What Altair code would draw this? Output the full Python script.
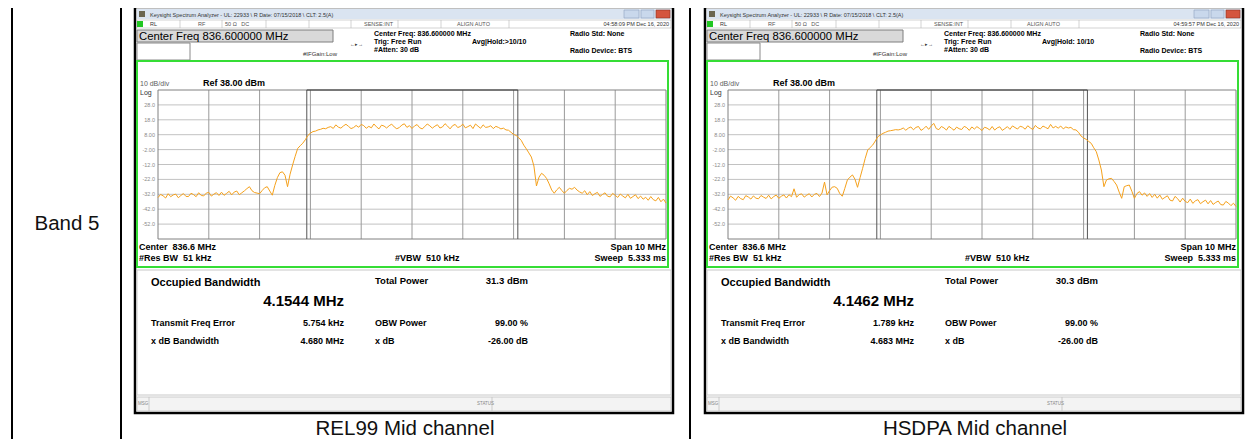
import altair as alt
import pandas as pd

# ---------------- data ----------------
SWEEP_FREQ = [round(831.6 + 0.05 * i, 2) for i in range(201)]  # sweep bins, MHz

REL99_DBM = [
    -34.2, -32.1, -33.0, -34.5, -31.6, -33.6, -32.4, -31.9, -34.3, -32.8,
    -31.5, -33.4, -33.5, -31.3, -32.2, -33.6, -31.0, -32.7, -33.1, -31.2,
    -30.7, -33.2, -31.9, -30.9, -32.8, -30.6, -32.7, -31.4, -30.0, -32.4,
    -30.5, -29.8, -32.3, -31.0, -29.7, -28.2, -26.9, -29.6, -30.8, -31.2,
    -31.6, -29.5, -27.6, -26.9, -29.8, -32.6, -26.0, -20.8, -17.5, -16.9,
    -19.2, -26.9, -18.5, -12.3, -6.5, -1.2, 0.6, 2.3, 4.6, 7.5,
    9.0, 10.1, 10.4, 11.2, 11.6, 12.3, 12.0, 12.9, 13.4, 12.2,
    14.6, 13.1, 12.4, 13.9, 15.0, 13.6, 12.1, 12.8, 14.2, 13.0,
    14.9, 14.1, 12.3, 13.6, 12.6, 15.2, 13.3, 11.9, 14.4, 13.8,
    12.5, 14.0, 15.1, 13.2, 12.0, 12.8, 14.5, 15.3, 12.9, 14.1,
    12.2, 13.9, 14.8, 12.7, 11.9, 13.4, 15.2, 14.0, 12.4, 13.7,
    14.7, 12.5, 13.2, 15.4, 13.8, 11.9, 14.1, 14.9, 12.8, 13.5,
    15.1, 12.6, 13.4, 14.4, 12.1, 15.2, 13.7, 12.3, 14.6, 12.9,
    13.2, 14.0, 12.1, 13.6, 12.9, 11.9, 12.4, 11.2, 11.0, 9.6,
    8.2, 7.5, 6.0, 4.2, 1.0, -1.5, -4.2, -7.0, -13.0, -26.4,
    -20.5, -17.9, -19.2, -21.4, -25.0, -29.1, -31.3, -29.0, -27.3, -29.5,
    -31.3, -29.4, -28.0, -28.6, -27.3, -29.2, -30.4, -31.3, -29.6, -32.3,
    -30.2, -32.8, -31.6, -30.7, -33.4, -32.1, -31.0, -33.3, -33.7, -31.4,
    -32.7, -34.1, -31.8, -33.2, -34.4, -32.0, -34.7, -33.5, -32.3, -34.9,
    -33.2, -35.3, -34.0, -36.0, -33.5, -35.6, -36.4, -34.1, -37.0, -35.2,
    -37.9,
]

HSDPA_DBM = [
    -35.8, -33.2, -34.4, -36.0, -33.4, -34.9, -35.6, -32.9, -33.8, -35.2,
    -33.1, -34.6, -35.0, -32.8, -33.9, -34.8, -32.6, -35.1, -33.5, -32.5,
    -34.7, -33.3, -32.4, -34.5, -32.3, -33.6, -28.3, -34.0, -32.2, -31.7,
    -33.9, -32.6, -31.6, -33.8, -32.0, -31.4, -33.5, -31.2, -23.8, -32.4,
    -29.5, -27.2, -26.9, -28.0, -31.5, -33.3, -28.0, -22.4, -20.5, -19.0,
    -21.9, -27.3, -20.8, -14.6, -8.0, -2.3, -0.5, 1.1, 3.8, 6.7,
    7.8, 8.9, 9.6, 10.4, 10.7, 11.0, 11.4, 11.2, 11.6, 12.5,
    11.0, 12.4, 13.2, 11.3, 12.9, 13.5, 10.9, 12.0, 13.7, 11.6,
    13.8, 15.6, 12.1, 11.4, 13.5, 12.6, 11.1, 13.6, 12.3, 11.0,
    13.1, 12.0, 11.5, 13.6, 12.7, 10.9, 13.2, 11.8, 13.4, 12.2,
    10.8, 13.0, 12.4, 11.2, 13.5, 11.1, 12.6, 13.3, 10.9, 12.1,
    13.4, 11.6, 13.9, 12.8, 11.8, 13.7, 13.1, 11.7, 14.0, 12.6,
    11.5, 14.2, 12.6, 11.9, 13.8, 12.9, 12.0, 14.9, 12.5, 13.6,
    12.4, 13.8, 11.9, 13.2, 12.5, 12.9, 11.4, 11.2, 9.6, 7.1,
    5.8, 4.9, 3.5, 2.2, -0.8, -3.4, -9.0, -15.7, -26.9, -22.4,
    -21.6, -21.3, -23.4, -25.8, -30.5, -34.7, -26.9, -26.2, -25.8, -30.0,
    -34.7, -31.5, -30.2, -32.6, -31.1, -33.4, -31.5, -34.1, -32.0, -34.6,
    -32.5, -35.3, -34.1, -33.0, -35.9, -36.5, -33.4, -34.9, -37.2, -34.6,
    -36.8, -37.6, -35.2, -38.1, -36.4, -35.6, -38.3, -37.0, -35.9, -38.4,
    -36.2, -38.8, -37.5, -36.5, -38.9, -39.2, -36.8, -37.9, -39.6, -38.0,
    -40.2,
]

GRID_FREQ = [832.6, 833.6, 834.6, 835.6, 836.6, 837.6, 838.6, 839.6, 840.6]
GRID_DBM = [28, 18, 8, -2, -12, -22, -32, -42, -52]
YTICK_LABELS = ["28.0", "18.0", "8.00", "-2.00", "-12.0", "-22.0", "-32.0", "-42.0", "-52.0"]
FREQ_DOMAIN = [831.6, 841.6]
DBM_DOMAIN = [-62, 38]

REL99_OBW_EDGES = [834.529, 838.683]
HSDPA_OBW_EDGES = [834.529, 838.675]

NB = "\u00a0"
PANELS = [
    dict(time="04:58:09 PM Dec 16, 2020", avg="Avg|Hold:>10/10", obw="4.1544 MHz",
         tp="31.3 dBm", tfe="5.754 kHz", xdb="4.680 MHz", caption="REL99 Mid channel"),
    dict(time="04:59:57 PM Dec 16, 2020", avg="Avg|Hold: 10/10", obw="4.1462 MHz",
         tp="30.3 dBm", tfe="1.789 kHz", xdb="4.683 MHz", caption="HSDPA Mid channel"),
]
ROW_LABEL = "Band 5"
TITLE = r"Keysight Spectrum Analyzer - UL: 22933 \ R Date: 07/15/2018 \ CLT: 2.5(A)"

# ---------------- helpers ----------------
OFF = 8  # page margin
ONE = pd.DataFrame({"k": [0]})
FONT = "Liberation Sans"


def T(s, x, y, size=8, bold=True, align="left", color="#000000"):
    return alt.Chart(ONE).mark_text(
        text=s, align=align, baseline="middle", fontSize=size,
        fontWeight="bold" if bold else "normal", color=color, font=FONT,
    ).encode(x=alt.value(x - OFF), y=alt.value(y - OFF))


def R(x1, y1, x2, y2, fill=None, stroke=None, sw=1.0):
    kw = {}
    if fill:
        kw["fill"] = fill
    else:
        kw["fillOpacity"] = 0
    if stroke:
        kw["stroke"] = stroke
        kw["strokeWidth"] = sw
    return alt.Chart(ONE).mark_rect(**kw).encode(
        x=alt.value(x1 - OFF), x2=alt.value(x2 - OFF),
        y=alt.value(y1 - OFF), y2=alt.value(y2 - OFF))


def VR(x, y1, y2, color="#000", sw=1.0):
    return alt.Chart(ONE).mark_rule(color=color, strokeWidth=sw).encode(
        x=alt.value(x - OFF), y=alt.value(y1 - OFF), y2=alt.value(y2 - OFF))


def HR(x1, x2, y, color="#000", sw=1.0):
    return alt.Chart(ONE).mark_rule(color=color, strokeWidth=sw).encode(
        x=alt.value(x1 - OFF), x2=alt.value(x2 - OFF), y=alt.value(y - OFF))


def spectrum(dbm, edges, px0, px1, py_top, py_bot):
    xs = alt.Scale(domain=FREQ_DOMAIN, range=[px0 - OFF, px1 - OFF])
    ys = alt.Scale(domain=DBM_DOMAIN, range=[py_bot - OFF, py_top - OFF])
    X = lambda f: alt.X(f, type="quantitative", scale=xs, axis=None)
    Y = lambda f: alt.Y(f, type="quantitative", scale=ys, axis=None)

    hgrid = alt.Chart(pd.DataFrame({"d": GRID_DBM})).mark_rule(
        color="#c2c2c2", strokeWidth=1).encode(
        y=Y("d"), x=alt.value(px0 - OFF), x2=alt.value(px1 - OFF))
    vgrid = alt.Chart(pd.DataFrame({"f": GRID_FREQ})).mark_rule(
        color="#9a9a9a", strokeWidth=1).encode(
        x=X("f"), y=alt.value(py_top - OFF), y2=alt.value(py_bot - OFF))
    box = alt.Chart(pd.DataFrame({"f": [FREQ_DOMAIN[0]], "f2": [FREQ_DOMAIN[1]],
                                  "d": [DBM_DOMAIN[0]], "d2": [DBM_DOMAIN[1]]})).mark_rect(
        fillOpacity=0, stroke="#808080", strokeWidth=1).encode(
        x=X("f"), x2="f2", y=Y("d"), y2="d2")
    markers = alt.Chart(pd.DataFrame({"f": edges})).mark_rule(
        color="#555555", strokeWidth=1).encode(
        x=X("f"), y=alt.value(py_top - OFF), y2=alt.value(py_bot - OFF))
    topbar = alt.Chart(pd.DataFrame({"f": [edges[0]], "f2": [edges[1]], "d": [DBM_DOMAIN[1]]})).mark_rule(
        color="#333333", strokeWidth=1.2).encode(x=X("f"), x2="f2", y=Y("d"))
    ticks = alt.Chart(pd.DataFrame({"d": GRID_DBM, "t": YTICK_LABELS})).mark_text(
        align="right", baseline="middle", fontSize=5.5, color="#8a8a8a", font=FONT).encode(
        y=Y("d"), text="t:N", x=alt.value(px0 - 3 - OFF))
    trace = alt.Chart(pd.DataFrame({"f": SWEEP_FREQ, "d": dbm})).mark_line(
        color="#f5a11c", strokeWidth=1).encode(x=X("f"), y=Y("d"))
    return alt.layer(hgrid, vgrid, box, markers, topbar, ticks, trace)


def panel(dx, info, dbm, edges):
    L = []
    L.append(R(135 + dx, 7, 673 + dx, 413, fill="#ffffff", stroke="#000000", sw=2.5))
    # title bar
    L.append(R(137 + dx, 9, 671 + dx, 19, fill="#dae4f1"))
    L.append(R(139 + dx, 11, 145 + dx, 17, fill="#6b6650"))
    L.append(T(TITLE, 150 + dx, 14.5, 5.5, False, color="#333333"))
    L.append(R(624 + dx, 10, 639 + dx, 18, fill="#c9d8ec", stroke="#8ea3bf", sw=0.6))
    L.append(R(641 + dx, 10, 654 + dx, 18, fill="#c9d8ec", stroke="#8ea3bf", sw=0.6))
    L.append(R(656 + dx, 10, 670 + dx, 18, fill="#d4553e", stroke="#8a3020", sw=0.6))
    # status row
    L.append(R(137 + dx, 20, 671 + dx, 28, fill="#ffffff", stroke="#b5b5b5", sw=0.6))
    for sx in [180, 222, 266, 309, 351, 398, 441, 509]:
        L.append(VR(sx + dx, 20, 28, "#b5b5b5", 0.6))
    L.append(R(137 + dx, 21, 143 + dx, 27, fill="#22c722"))
    L.append(T("RL", 150 + dx, 24, 5.5, False, color="#333333"))
    L.append(T("RF", 198 + dx, 24, 5.5, False, color="#555555"))
    L.append(T("50 \u03a9" + NB * 3 + "DC", 225 + dx, 24, 5.5, False, color="#555555"))
    L.append(T("SENSE:INT", 364 + dx, 24, 5.5, False, color="#555555"))
    L.append(T("ALIGN AUTO", 457 + dx, 24, 5.5, False, color="#555555"))
    L.append(T(info["time"], 669 + dx, 24, 5.5, False, "right", "#333333"))
    # row 3
    L.append(R(137 + dx, 30, 333 + dx, 42, fill="#d9d9d9", stroke="#7f7f7f", sw=1))
    L.append(T("Center Freq 836.600000 MHz", 139 + dx, 36.5, 11.3, False))
    L.append(R(137 + dx, 43, 190 + dx, 60, fill="#ffffff", stroke="#8a8a8a", sw=1))
    L.append(T("Center Freq: 836.600000 MHz", 374 + dx, 34, 7))
    L.append(T("Trig: Free Run", 374 + dx, 42, 7))
    L.append(T("#Atten: 30 dB", 374 + dx, 50, 7))
    L.append(T(info["avg"], 472 + dx, 42, 7))
    L.append(T("Radio Std: None", 570 + dx, 34, 7))
    L.append(T("Radio Device: BTS", 570 + dx, 51, 7))
    L.append(T("#IFGain:Low", 303 + dx, 54, 6, False, color="#333333"))
    L.append(T("\u2190\u25b8\u2192", 350 + dx, 43.5, 5, False, color="#333333"))
    # green frame
    L.append(R(137 + dx, 61, 668 + dx, 267, stroke="#35dd35", sw=2))
    L.append(T("10 dB/div", 140 + dx, 84, 7, False, color="#606060"))
    L.append(T("Ref 38.00 dBm", 203 + dx, 83, 9))
    L.append(T("Log", 140 + dx, 93, 7, False, color="#333333"))
    L.append(spectrum(dbm, edges, 158 + dx, 666 + dx, 90, 239))
    L.append(T("Center" + NB * 2 + "836.6 MHz", 139 + dx, 247, 9))
    L.append(T("#Res BW" + NB * 2 + "51 kHz", 139 + dx, 258, 9))
    L.append(T("#VBW" + NB * 2 + "510 kHz", 395 + dx, 258, 9))
    L.append(T("Span 10 MHz", 666 + dx, 247, 9, True, "right"))
    L.append(T("Sweep" + NB * 2 + "5.333 ms", 666 + dx, 258, 9, True, "right"))
    # results
    L.append(R(137 + dx, 270, 671 + dx, 395, fill="#ffffff", stroke="#c8c8c8", sw=1))
    L.append(T("Occupied Bandwidth", 151 + dx, 283, 11))
    L.append(T(info["obw"], 344 + dx, 301, 15, True, "right"))
    L.append(T("Total Power", 375 + dx, 281, 9.5))
    L.append(T(info["tp"], 528 + dx, 281, 9.5, True, "right"))
    L.append(T("Transmit Freq Error", 151 + dx, 323, 9))
    L.append(T(info["tfe"], 344 + dx, 323, 9, True, "right"))
    L.append(T("OBW Power", 375 + dx, 323, 9))
    L.append(T("99.00 %", 528 + dx, 323, 9, True, "right"))
    L.append(T("x dB Bandwidth", 151 + dx, 341, 9))
    L.append(T(info["xdb"], 344 + dx, 341, 9, True, "right"))
    L.append(T("x dB", 375 + dx, 341, 9))
    L.append(T("-26.00 dB", 528 + dx, 341, 9, True, "right"))
    # msg bar
    L.append(R(137 + dx, 397, 671 + dx, 411, fill="#f3f3f3", stroke="#c0c0c0", sw=0.8))
    L.append(VR(149 + dx, 397, 411, "#c0c0c0", 0.8))
    L.append(VR(492 + dx, 397, 411, "#c0c0c0", 0.8))
    L.append(T("MSG", 138 + dx, 404, 4.5, False, color="#888888"))
    L.append(T("STATUS", 477 + dx, 404, 4.5, False, color="#888888"))
    # caption
    L.append(T(info["caption"], 405 + dx, 429, 20.5, False, "center", "#111111"))
    return L


layers = []
# table lines
layers.append(R(11, 2, 212, 7, fill="#000000"))
layers.append(HR(11, 1254, 7, "#000000", 2))
for tx in [12, 121, 690, 1253]:
    layers.append(VR(tx, 7, 439, "#000000", 2))
layers.append(T(ROW_LABEL, 67, 224, 20.5, False, "center", "#111111"))

layers += panel(0, PANELS[0], REL99_DBM, REL99_OBW_EDGES)
layers += panel(570, PANELS[1], HSDPA_DBM, HSDPA_OBW_EDGES)

chart = alt.layer(*layers).resolve_scale(x="independent", y="independent").properties(
    width=1240, height=431,
    autosize=alt.AutoSizeParams(type="none"),
    padding=0,
).configure_view(stroke=None)

chart.save("out.html", embed_options={"renderer": "svg", "actions": False})
